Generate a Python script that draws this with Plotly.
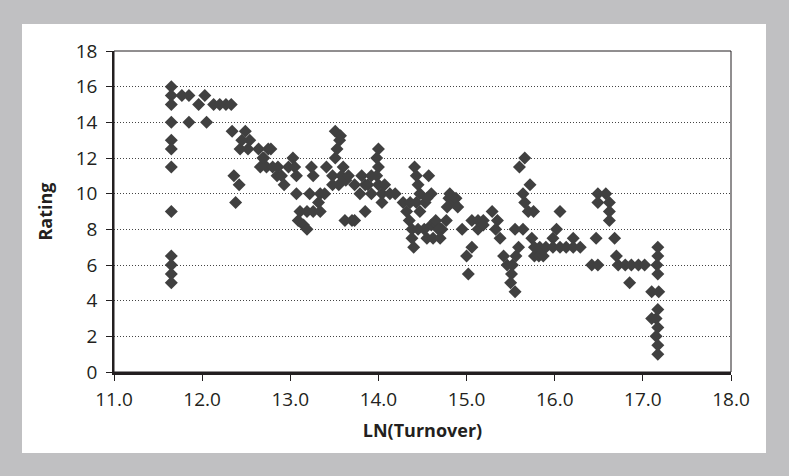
import plotly.graph_objects as go

# LN(Turnover) vs Rating
ln_turnover = [
    11.65, 11.65, 11.65, 11.65, 11.65, 11.65, 11.65, 11.65, 11.65, 11.65, 11.65, 11.65,
    11.77, 11.85, 11.96, 12.03, 12.13, 12.20, 12.27, 12.33, 11.85, 12.05,
    12.34, 12.49, 12.45, 12.54, 12.43, 12.52, 12.64, 12.75, 12.69, 12.66, 12.73, 12.36, 12.42, 12.38,
    12.78, 12.70, 12.80, 12.86, 12.85, 12.90, 12.93,
    13.03, 12.98, 13.05, 13.07, 13.24, 13.26, 13.41,
    13.51, 13.57, 13.56, 13.53, 13.51, 13.60, 13.48, 13.58, 13.48, 13.55, 13.63,
    13.07, 13.22, 13.34, 13.39, 13.32, 13.11, 13.19, 13.26, 13.34, 13.09, 13.15, 13.19, 13.62, 13.70,
    14.00, 13.98, 14.00, 13.66, 13.81, 13.92, 13.98, 13.73, 13.85, 13.88, 14.00, 14.07,
    13.79, 13.92, 14.04, 14.13, 14.19, 14.04, 13.85, 13.73,
    14.28, 14.36, 14.43, 14.53, 14.60, 14.41, 14.43, 14.45, 14.57, 14.47, 14.55, 14.32, 14.47,
    14.35, 14.38, 14.45, 14.52, 14.60, 14.66, 14.72, 14.38, 14.40, 14.55, 14.62,
    14.81, 14.80, 14.85, 14.78, 14.88, 14.90, 14.77, 14.65, 14.68, 14.70, 14.95,
    15.06, 15.00, 15.02, 15.06, 15.13, 15.19, 15.13, 15.19, 15.29, 15.35, 15.33, 15.38,
    15.42, 15.46, 15.52, 15.51, 15.50, 15.55, 15.56, 15.55, 15.64, 15.59,
    15.60, 15.66, 15.72, 15.64, 15.66, 15.70, 15.76, 15.74, 15.77, 15.77, 15.83, 15.82,
    16.06, 16.02, 15.98, 16.21, 15.83, 15.90, 15.98, 16.06, 16.13, 16.21, 16.29, 15.87,
    16.42, 16.49, 16.47, 16.49, 16.58, 16.49, 16.62, 16.62, 16.62, 16.68,
    16.70, 16.72, 16.80, 16.87, 16.95, 17.02, 16.85,
    17.17, 17.17, 17.16, 17.17, 17.10, 17.18, 17.17, 17.10, 17.15, 17.17, 17.15, 17.17, 17.17,
]
rating = [
    16, 15.5, 15, 14, 13, 12.5, 11.5, 9, 6.5, 6, 5.5, 5,
    15.5, 15.5, 15, 15.5, 15, 15, 15, 15, 14, 14,
    13.5, 13.5, 13, 13, 12.5, 12.5, 12.5, 12.5, 12, 11.5, 11.5, 11, 10.5, 9.5,
    12.5, 12, 11.5, 11.5, 11, 11, 10.5,
    12, 11.5, 11.5, 11, 11.5, 11, 11.5,
    13.5, 13.25, 13, 12.5, 12, 11.5, 11, 11, 10.5, 10.5, 10.75,
    10, 10, 10, 10, 9.5, 9, 9, 9, 9, 8.5, 8.25, 8, 8.5, 8.5,
    12.5, 12, 11.5, 11, 11, 11, 11, 10.5, 10.5, 10.5, 10.5, 10.5,
    10, 10, 10, 10, 10, 9.5, 9, 8.5,
    9.5, 9.5, 9.5, 9.5, 10, 11.5, 11, 10.5, 11, 10, 9.75, 9, 9,
    8.5, 8, 8, 8, 8.25, 8.25, 8, 7.5, 7, 7.5, 7.5,
    10, 9.75, 9.5, 9.25, 9.75, 9.25, 8.5, 8.5, 8, 7.5, 8,
    7, 6.5, 5.5, 8.5, 8.5, 8.5, 8, 8.25, 9, 8.5, 8, 7.5,
    6.5, 6, 6, 5.5, 5, 4.5, 6.5, 8, 8, 7,
    11.5, 12, 10.5, 10, 9.5, 9, 9, 7.5, 7, 6.5, 6.75, 6.5,
    9, 8, 7.5, 7.5, 7, 7, 7, 7, 7, 7, 7, 6.5,
    6, 6, 7.5, 10, 10, 9.5, 9.5, 9, 8.5, 7.5,
    6.5, 6, 6, 6, 6, 6, 5,
    7, 6.5, 6, 5.5, 4.5, 4.5, 3.5, 3, 3, 2.5, 2, 1.5, 1,
]

x_ticks = [11, 12, 13, 14, 15, 16, 17, 18]
y_ticks = [0, 2, 4, 6, 8, 10, 12, 14, 16, 18]

W, H = 789, 476
L, R, T, B = 114, 731, 51, 372  # plot area in pixels


def px_x(p):
    return (p - L) / (R - L)


def px_y(p):
    return (B - p) / (B - T)


fig = go.Figure(go.Scatter(
    x=ln_turnover, y=rating, mode="markers",
    marker=dict(symbol="diamond", size=10, color="#404040", line=dict(width=0)),
    showlegend=False,
))

font_main = "Open Sans, Lato, sans-serif"

fig.update_layout(
    width=W, height=H,
    margin=dict(l=L, r=W - R, t=T, b=H - B),
    paper_bgcolor="#c0c0c2",
    plot_bgcolor="white",
    font=dict(family=font_main, size=16, color="#231f20"),
    shapes=[
        # white inner panel
        dict(type="rect", xref="paper", yref="paper",
             x0=px_x(22), x1=px_x(766), y0=px_y(453), y1=px_y(24),
             fillcolor="white", line=dict(width=0), layer="below"),
        # thin frame top/right
        dict(type="rect", xref="paper", yref="paper", x0=0, x1=1, y0=0, y1=1,
             line=dict(color="#231f20", width=1), fillcolor="rgba(0,0,0,0)", layer="above"),
    ],
)

fig.update_xaxes(
    range=[11, 18], tickvals=x_ticks, ticktext=[f"{v:.1f}" for v in x_ticks],
    showgrid=False, zeroline=False,
    showline=True, linewidth=2.5, linecolor="#231f20",
    ticks="outside", ticklen=6, tickwidth=1, tickcolor="#231f20",
    tickfont=dict(size=19), ticklabelstandoff=2,
    title=dict(text="<b>LN(Turnover)</b>", font=dict(size=18), standoff=14),
)
fig.update_yaxes(
    range=[0, 18], tickvals=y_ticks,
    showgrid=True, gridcolor="#444444", griddash="1px,2px", gridwidth=1,
    zeroline=False,
    showline=True, linewidth=1.5, linecolor="#231f20",
    ticks="outside", ticklen=6, tickwidth=1, tickcolor="#231f20",
    tickfont=dict(size=19), ticklabelstandoff=5,
    title=dict(text="<b>Rating</b>", font=dict(size=18), standoff=18),
)

fig.write_html("out.html", config={"displayModeBar": False},
               post_script="document.body.style.margin='0';")
